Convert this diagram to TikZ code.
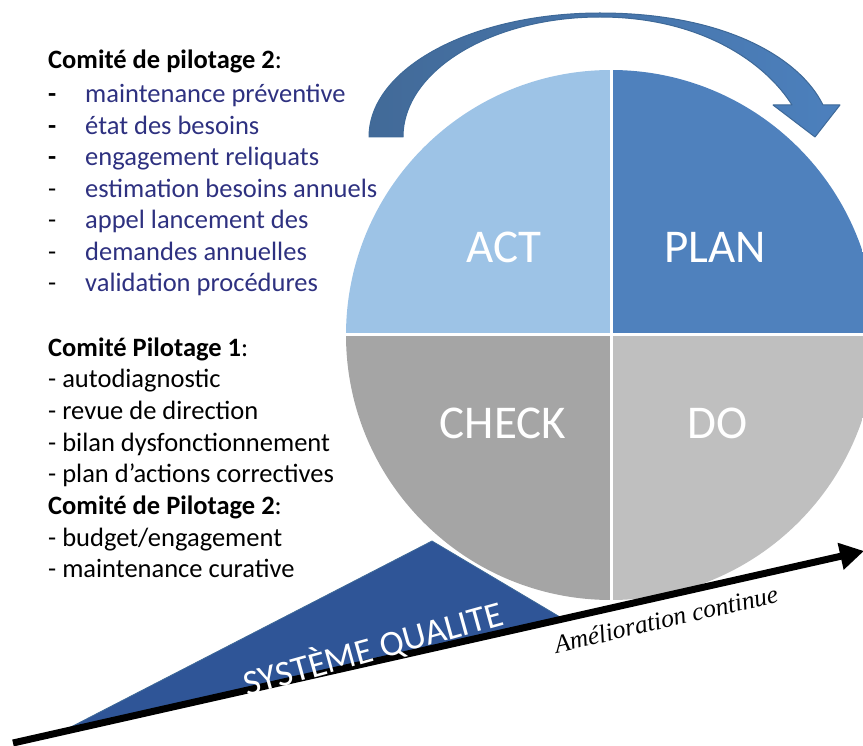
\documentclass[tikz,border=0pt]{standalone}
\usepackage{fontspec}
\setmainfont{Carlito}
\newfontfamily\amfont{Liberation Serif}
\usetikzlibrary{arrows.meta}
\definecolor{actblue}{RGB}{157,195,230}
\definecolor{planblue}{RGB}{79,129,189}
\definecolor{checkgray}{RGB}{165,165,165}
\definecolor{dogray}{RGB}{191,191,191}
\definecolor{sqblue}{RGB}{47,85,151}
\definecolor{navy}{RGB}{46,49,128}
\definecolor{arcdark}{RGB}{66,106,152}
\definecolor{arclight}{RGB}{76,128,189}
\definecolor{arcline}{RGB}{62,105,152}
\begin{document}
\begin{tikzpicture}[x=1pt,y=-1pt, line join=round,
	listtxt/.style={anchor=base west,inner sep=0pt,font=\fontsize{26.5}{31}\selectfont},
	pdca/.style={text=white,inner sep=0pt,font=\fontsize{47}{56}\selectfont}]
	\def\cx{611} \def\cy{335} \def\r{265} % cercle PDCA
	\useasboundingbox (0,0) rectangle (863,746);
	\clip (0,0) rectangle (863,746);
	
	% fleche courbe
	\draw[arcline,line width=1pt,left color=arcdark,right color=arclight]
	(369,137) .. controls (369,68) and (472,13) .. (600,13)
	.. controls (725,13) and (800,58) .. (823,105) -- (840,105) -- (815,137) -- (773,105) -- (792,105)
	.. controls (765,62) and (700,17) .. (600,17)
	.. controls (491,17) and (403,71) .. (403,137) -- cycle;
	
	\begin{scope}
		\clip (\cx,\cy) circle (265pt);
		\fill[actblue] (\cx-\r,\cy-\r) rectangle (\cx,\cy);
		\fill[planblue] (\cx,\cy-\r) rectangle (\cx+\r,\cy);
		\fill[checkgray] (\cx-\r,\cy) rectangle (\cx,\cy+\r);
		\fill[dogray] (\cx,\cy) rectangle (\cx+\r,\cy+\r);
	\end{scope}
	\draw[white,line width=3pt] (\cx,\cy-\r)--(\cx,\cy+\r) (\cx-\r,\cy)--(\cx+\r,\cy);
	\node[pdca] (act) at (504,247) {ACT};
	\node[pdca] (plan) at (715,247) {PLAN};
	\node[pdca] (check) at (503,423) {CHECK};
	\node[pdca] (do) at (718,423) {DO};
	
	% triangle + fleche amelioration
	\coordinate (sqL) at (67,729);
	\coordinate (sqT) at (432,541);
	\coordinate (sqR) at (560,617);
	\fill[sqblue,draw=arcline,line width=.8pt] (sqL)--(sqT)--(sqR)--cycle;
	\coordinate (ameA) at (13,743);
	\coordinate (ameB) at (864,551);
	\draw[line width=7pt,-{Triangle[length=24pt,width=26pt]}] (ameA)--(ameB);
	\node[text=white,inner sep=0pt,font=\fontsize{36}{40}\selectfont,rotate=15.5] (sq) at (373,648) {SYSTÈME QUALITE};
	\node[inner sep=0pt,font=\amfont\itshape\fontsize{25.5}{30}\selectfont,rotate=13] (ame) at (666,619) {Amélioration continue};
	
	% listes
	\node[listtxt] (t1) at (48,69) {\textbf{Comité de pilotage 2}:};
	\foreach \txt [count=\i] in {maintenance préventive,état des besoins,engagement reliquats,estimation besoins annuels,appel lancement des,demandes annuelles,validation procédures}{
		\pgfmathsetmacro\yy{102.7+31.5*(\i-1)}
		\node[listtxt] (d\i) at (48,\yy) {\ifnum\i<4 \textbf{-}\else -\fi};
		\node[listtxt,text=navy] (a\i) at (85,\yy) {\txt};
	}
	\foreach \txt [count=\i] in {\textbf{Comité Pilotage 1}:,- autodiagnostic,- revue de direction,- bilan dysfonctionnement,- plan d{\char"27}actions correctives,\textbf{Comité de Pilotage 2}:,- budget/engagement,- maintenance curative}{
		\pgfmathsetmacro\yy{356+31.7*(\i-1)}
		\node[listtxt] (b\i) at (48,\yy) {\txt};
	}
\end{tikzpicture}
\end{document}
